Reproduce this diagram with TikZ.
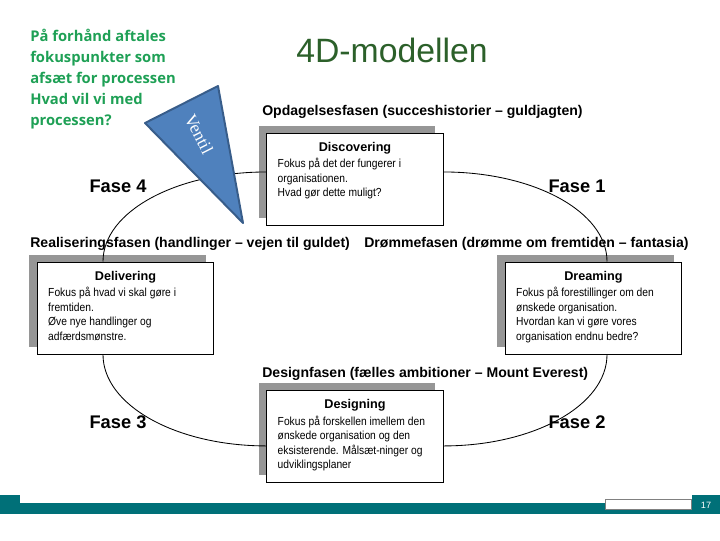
\documentclass[tikz,border=0pt]{standalone}
\usepackage{fontspec}
\setmainfont{Liberation Sans}
\newfontfamily\noteface{Open Sans}
\newfontfamily\valveface{Liberation Serif}
\newfontfamily\boxface[FakeStretch=0.88]{Liberation Sans}
\usetikzlibrary{positioning,shadows}
\definecolor{titlegreen}{RGB}{44,96,42}
\definecolor{notegreen}{RGB}{30,160,85}
\definecolor{valveblue}{RGB}{79,129,189}
\definecolor{valveedge}{RGB}{56,93,138}
\definecolor{shadowgray}{RGB}{150,150,150}
\definecolor{barteal}{RGB}{0,112,120}
\tikzset{
  phasebox/.style={draw=black,line width=.7pt,fill=white,minimum width=4.4cm,minimum height=2.3cm,inner sep=0pt,
    general shadow={fill=shadowgray,shadow xshift=-5.7pt,shadow yshift=5pt}},
  boxtitle/.style={font=\bfseries\fontsize{9}{9}\selectfont,inner sep=0pt,anchor=base},
  boxbody/.style={font=\boxface\fontsize{8.3}{10.3}\selectfont,align=left,inner sep=0pt,anchor=north west},
  phaselabel/.style={font=\bfseries\fontsize{10}{10}\selectfont,inner sep=0pt,anchor=base west},
  faselabel/.style={font=\bfseries\fontsize{13}{13}\selectfont,inner sep=0pt,anchor=base},
  cycleline/.style={line width=.6pt,black}
}
\begin{document}
\begin{tikzpicture}[x=0.025cm,y=-0.025cm]
\useasboundingbox (0,0) rectangle (720,540);
% title and note
\node[font=\fontsize{24}{24}\selectfont,text=titlegreen,inner sep=0pt,anchor=base] (title) at (392,62) {4D-modellen};
\node[font=\noteface\bfseries\fontsize{10.5}{14.9}\selectfont,text=notegreen,align=left,inner sep=0pt,anchor=north west] (note) at (30,29)
  {På forhånd aftales\\fokuspunkter som\\afsæt for processen\\Hvad vil vi med\\processen?};
% the four boxes
\node[phasebox] (disc) at (355,179) {};
\node[phasebox] (deliv) at (125.5,308) {};
\node[phasebox] (dream) at (593.5,308) {};
\node[phasebox] (desig) at (355,436.5) {};
\node[boxtitle] (disct) at ([yshift=-13.5pt]disc.north) {Discovering};
\node[boxbody] (discb) at ([xshift=7.8pt,yshift=-18.2pt]disc.north west) {Fokus på det der fungerer i\\organisationen.\\Hvad gør dette muligt?};
\node[boxtitle] (delivt) at ([yshift=-13.5pt]deliv.north) {Delivering};
\node[boxbody] (delivb) at ([xshift=7.8pt,yshift=-18.2pt]deliv.north west) {Fokus på hvad vi skal gøre i\\fremtiden.\\Øve nye handlinger og\\adfærdsmønstre.};
\node[boxtitle] (dreamt) at ([yshift=-13.5pt]dream.north) {Dreaming};
\node[boxbody] (dreamb) at ([xshift=7.8pt,yshift=-18.2pt]dream.north west) {Fokus på forestillinger om den\\ønskede organisation.\\Hvordan kan vi gøre vores\\organisation endnu bedre?};
\node[boxtitle] (desigt) at ([yshift=-13.5pt]desig.north) {Designing};
\node[boxbody] (desigb) at ([xshift=7.8pt,yshift=-18.2pt]desig.north west) {Fokus på forskellen imellem den\\ønskede organisation og den\\eksisterende. Målsæt-ninger og\\udviklingsplaner};
% phase labels
\node[phaselabel] (opd) at (262,115) {Opdagelsesfasen (succeshistorier – guldjagten)};
\node[phaselabel] (real) at (30,247) {Realiseringsfasen (handlinger – vejen til guldet)};
\node[phaselabel] (drom) at (364,247) {Drømmefasen (drømme om fremtiden – fantasia)};
\node[phaselabel] (dsgn) at (262,377) {Designfasen (fælles ambitioner – Mount Everest)};
\node[faselabel] (f4) at (118,192) {Fase 4};
\node[faselabel] (f1) at (577,192) {Fase 1};
\node[faselabel] (f3) at (118,428) {Fase 3};
\node[faselabel] (f2) at (577,428) {Fase 2};
% the cycle
\draw[cycleline] ([yshift=5pt]disc.west) .. controls +(-90,0) and +(0,-50) .. ([xshift=-16pt]deliv.north);
\draw[cycleline] ([yshift=5pt]disc.east) .. controls +(90,0) and +(0,-50) .. ([xshift=9.6pt]dream.north);
\draw[cycleline] ([xshift=-16pt]deliv.south) .. controls +(0,51) and +(-90,0) .. ([yshift=-6.7pt]desig.west);
\draw[cycleline] ([xshift=9.6pt]dream.south) .. controls +(0,51) and +(90,0) .. ([yshift=-6.7pt]desig.east);
% valve
\draw[fill=valveblue,draw=valveedge,line width=1.4pt,line join=round] (145,123) -- (218,86) -- (243,223) -- cycle;
\node[rotate=-63,text=white,font=\valveface\fontsize{12.5}{12.5}\selectfont,inner sep=0pt] (valve) at (199,134) {Ventil};
% footer bar
\fill[barteal] (0,503) rectangle (720,514);
\fill[barteal] (0,495) rectangle (20,514);
\fill[barteal] (692,495) rectangle (720,514);
\draw[fill=white,draw=gray,line width=.5pt] (605,499) rectangle (691,509);
\node[text=white,font=\fontsize{6.5}{6.5}\selectfont,inner sep=0pt] (pgno) at (706,505) {17};
\end{tikzpicture}
\end{document}
